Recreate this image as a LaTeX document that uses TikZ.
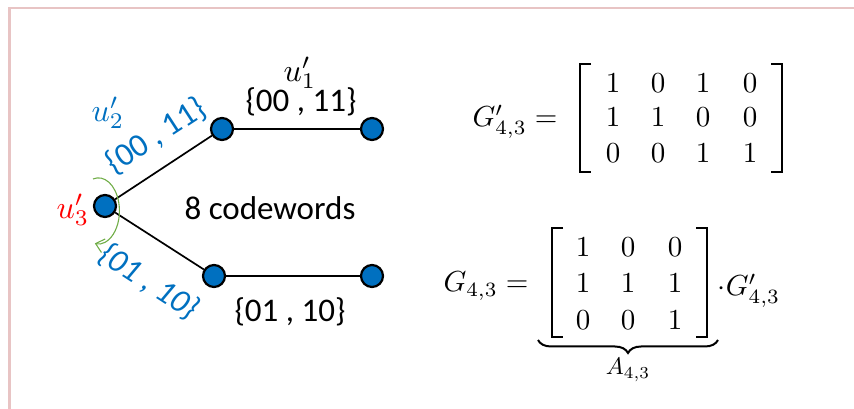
\documentclass[tikz,border=0pt]{standalone}
\usepackage{fontspec}
\setmainfont{Carlito}
\usetikzlibrary{decorations.pathreplacing,arrows.meta,calc}
\definecolor{nodeblue}{HTML}{0070C0}
\definecolor{lblblue}{HTML}{0070C0}
\definecolor{arcgreen}{HTML}{70AD47}
\definecolor{framepink}{RGB}{232,196,196}
\begin{document}
\begin{tikzpicture}[x=1pt,y=1pt,
  vtx/.style={circle,fill=nodeblue,draw=black,line width=2.2pt,minimum size=22pt,inner sep=0pt},
  edge/.style={line width=1.7pt},
  lbl/.style={font=\fontsize{33}{38}\selectfont,inner sep=0pt},
  mth/.style={inner sep=0pt},
  brk/.style={line width=2.4pt}]
\useasboundingbox (0,0) rectangle (854,409);
\draw[framepink,line width=2.5pt] (9.5,0) -- (9.5,401) -- (854,401);

% graph
\node[vtx] (n0) at (105,203) {};
\node[vtx] (n1) at (222,280) {};
\node[vtx] (n2) at (372,280) {};
\node[vtx] (n3) at (214,133) {};
\node[vtx] (n4) at (372,133) {};
\draw[edge] (n0) -- (n1);
\draw[edge] (n1) -- (n2);
\draw[edge] (n0) -- (n3);
\draw[edge] (n3) -- (n4);

\node[mth] (u1) at (300,336) {\scalebox{3.2}{$u'_1$}};
\node[lbl] (s1) at (301,307) {\{00 , 11\}};
\node[mth,text=lblblue] (u2) at (108,296) {\scalebox{3.2}{$u'_2$}};
\node[lbl,text=lblblue,rotate=33] (s2) at (156,273) {\{00 , 11\}};
\node[mth,text=red] (u3) at (73,199) {\scalebox{3.2}{$u'_3$}};
\node[lbl,text=lblblue,rotate=-33] (s3) at (149,127) {\itshape\{01 , 10\}};
\node[lbl] (s4) at (290,97) {\{01 , 10\}};
\node[lbl] (cw) at (270,201) {8 codewords};

\coordinate (arcstart) at (93,230);
\draw[arcgreen,line width=1.1pt,-{Straight Barb[length=8pt,width=14pt]}] (arcstart) arc[start angle=105,end angle=-100,x radius=21,y radius=33];

% first matrix
\node[mth,anchor=base] (gp) at (515,282) {\scalebox{2.9}{$G'_{4,3} =$}};
\foreach \r/\y/\a/\b/\c/\d in {1/326/1/0/1/0, 2/292/1/1/0/0, 3/256/0/0/1/1}{
  \node[mth] (p\r1) at (613,\y) {\scalebox{2.9}{$\a$}};
  \node[mth] (p\r2) at (658,\y) {\scalebox{2.9}{$\b$}};
  \node[mth] (p\r3) at (703,\y) {\scalebox{2.9}{$\c$}};
  \node[mth] (p\r4) at (750,\y) {\scalebox{2.9}{$\d$}};
}
\draw[brk] (591,345) -- (580,345) -- (580,237) -- (591,237);
\draw[brk] (771,345) -- (782,345) -- (782,237) -- (771,237);

% second matrix
\node[mth,anchor=base] (g) at (486,117) {\scalebox{2.9}{$G_{4,3} =$}};
\foreach \r/\y/\a/\b/\c in {1/162/1/0/0, 2/126/1/1/1, 3/89/0/0/1}{
  \node[mth] (q\r1) at (583,\y) {\scalebox{2.9}{$\a$}};
  \node[mth] (q\r2) at (628,\y) {\scalebox{2.9}{$\b$}};
  \node[mth] (q\r3) at (675,\y) {\scalebox{2.9}{$\c$}};
}
\draw[brk] (563,181) -- (552,181) -- (552,72) -- (563,72);
\draw[brk] (696,181) -- (707,181) -- (707,72) -- (696,72);
\node[mth,anchor=base] (gq) at (749,113) {\scalebox{2.9}{$\cdot G'_{4,3}$}};
\draw[line width=2pt,decorate,decoration={brace,amplitude=13pt}] (718,69) -- (538,69);
\node[mth] (a) at (628,39) {\scalebox{2.4}{$A_{4,3}$}};
\end{tikzpicture}
\end{document}
